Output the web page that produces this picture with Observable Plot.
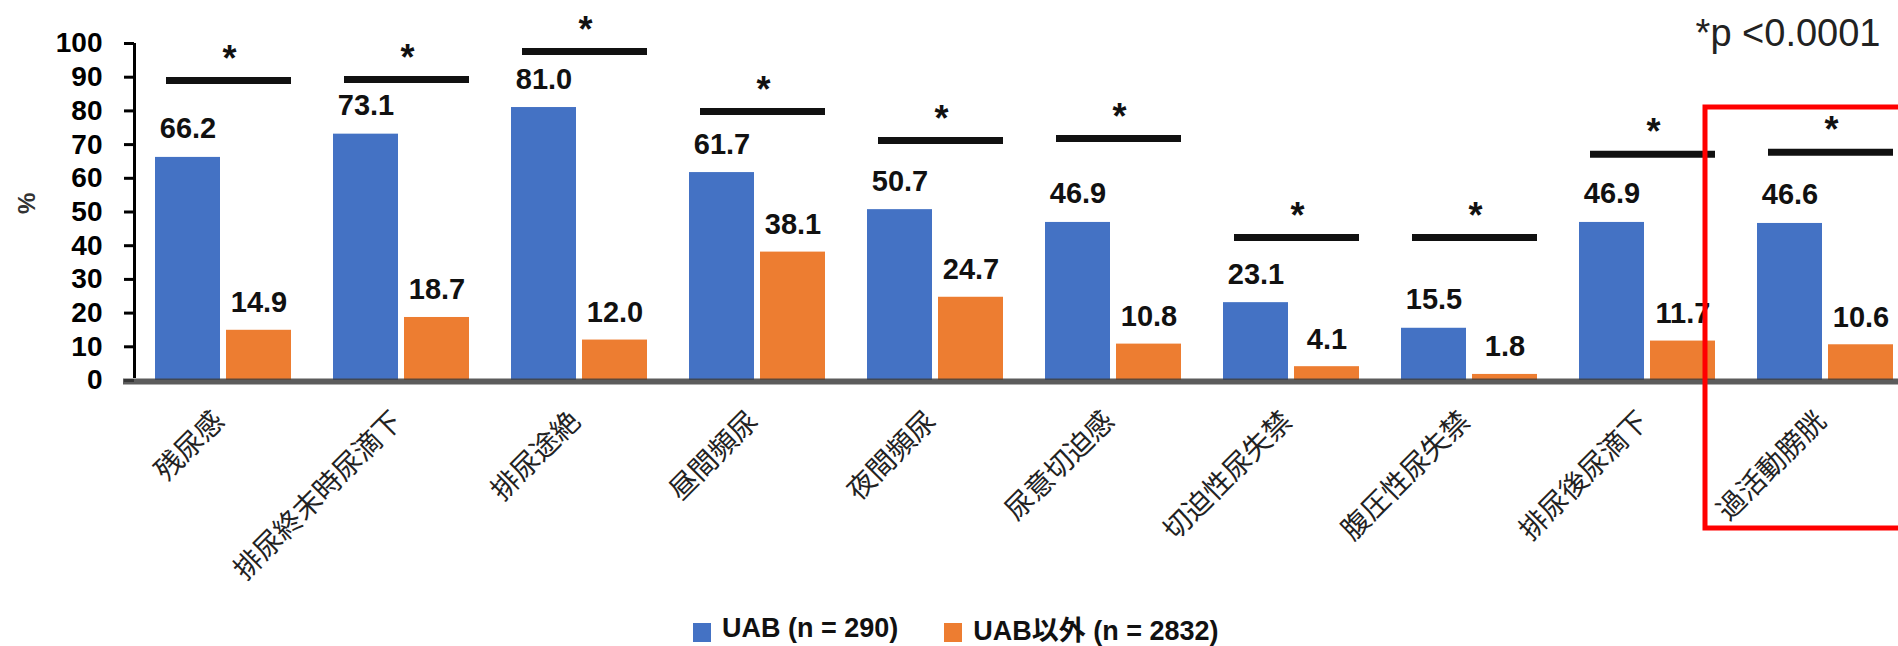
<!DOCTYPE html>
<html>
<head>
<meta charset="utf-8">
<script src="https://cdn.jsdelivr.net/npm/d3@7"></script>
<script src="https://cdn.jsdelivr.net/npm/@observablehq/plot@0.6"></script>
<style>
  html, body { margin: 0; padding: 0; background: white; overflow: hidden; }
  #wrap { position: relative; width: 1898px; height: 646px; }
  #legend { position: absolute; top: 614px; left: 693px; height: 36px; display: flex; align-items: center;
    font: bold 27px "Liberation Sans", Arial, "Noto Sans CJK JP", sans-serif; color: #111; }
  #legend .sw { display: inline-block; width: 18px; height: 19px; margin-right: 11px; }
  #legend .lab { position: relative; top: -4px; }
  #legend .gap { display: inline-block; width: 46px; }
</style>
</head>
<body>
<div id="wrap">
  <div id="chart"></div>
  <div id="legend">
    <span class="sw" style="background:#4472C4"></span><span class="lab" id="l1"></span>
    <span class="gap"></span>
    <span class="sw" style="background:#ED7D31"></span><span class="lab" id="l2"></span>
  </div>
</div>
<script>
// ---- data ----
const categories = ["残尿感", "排尿終末時尿滴下", "排尿途絶", "昼間頻尿", "夜間頻尿", "尿意切迫感", "切迫性尿失禁", "腹圧性尿失禁", "排尿後尿滴下", "過活動膀胱"];
const uabValues = [66.2, 73.1, 81.0, 61.7, 50.7, 46.9, 23.1, 15.5, 46.9, 46.6];
const otherValues = [14.9, 18.7, 12.0, 38.1, 24.7, 10.8, 4.1, 1.8, 11.7, 10.6];
const sigLevels = [89.0, 89.3, 97.6, 79.8, 71.2, 71.8, 42.4, 42.4, 67.1, 67.7];
const seriesNames = ["UAB (n = 290)", "UAB以外 (n = 2832)"];
const seriesColors = ["#4472C4", "#ED7D31"];
const yTicks = [0, 10, 20, 30, 40, 50, 60, 70, 80, 90, 100];
const yLabel = "%";
const pNote = "*p <0.0001";
const starText = "*";
const highlighted = ["過活動膀胱"];

// ---- table built from arrays ----
const rows = categories.map((c, i) => ({cat: c, uab: uabValues[i], other: otherValues[i], sig: sigLevels[i]}));

const latin = "'Liberation Sans', Arial, sans-serif";
const cjk = "'Noto Sans CJK JP', sans-serif";

const chart = Plot.plot({
  width: 1898,
  height: 600,
  marginLeft: 134,
  marginRight: -16,
  marginTop: 43,
  marginBottom: 220,
  style: {fontFamily: latin, background: "white", color: "black", overflow: "visible"},
  x: {type: "band", domain: categories, padding: 0, axis: null},
  y: {domain: [0, 100], axis: null},
  marks: [
    Plot.axisY({ticks: yTicks, tickSize: 10, tickPadding: 22, fontSize: 28, fontWeight: "bold", strokeWidth: 3, tickFormat: d => String(d)}),
    Plot.ruleX([categories[0]], {x: d => d, y1: 0, y2: 100, dx: -89, stroke: "black", strokeWidth: 3, insetTop: -2}),
    Plot.text([yLabel], {frameAnchor: "left", dx: -107, dy: 2, rotate: -90, fontSize: 24, fontWeight: "bold", fill: "#333"}),
    Plot.barY(rows, {x: "cat", y: "uab", fill: seriesColors[0], insetLeft: 21, insetRight: 92}),
    Plot.barY(rows, {x: "cat", y: "other", fill: seriesColors[1], insetLeft: 92, insetRight: 21}),
    Plot.ruleY([0], {stroke: "#404040", strokeOpacity: 0.85, strokeWidth: 6, dy: 1, insetLeft: -11}),
    Plot.text(rows, {x: "cat", y: "uab", text: d => d.uab.toFixed(1), dx: -35.5, dy: -19, lineAnchor: "bottom", fontSize: 29, fontWeight: "bold", fill: "#111"}),
    Plot.text(rows, {x: "cat", y: "other", text: d => d.other.toFixed(1), dx: 35.5, dy: -18, lineAnchor: "bottom", fontSize: 29, fontWeight: "bold", fill: "#111"}),
    Plot.tickY(rows, {x: "cat", y: "sig", stroke: "#111", strokeWidth: 7, insetLeft: 32, insetRight: 21}),
    Plot.text(rows, {x: "cat", y: "sig", text: () => starText, dx: 6, dy: -10, lineAnchor: "bottom", fontSize: 36, fontWeight: "bold", fill: "#111"}),
    Plot.text(categories, {x: d => d, frameAnchor: "bottom", dx: -4, dy: 36, rotate: -45, textAnchor: "end", lineAnchor: "middle", fontSize: 28, fontFamily: cjk, fill: "#222"}),
    Plot.text([pNote], {frameAnchor: "top-right", dx: -34, dy: 2, textAnchor: "end", lineAnchor: "bottom", fontSize: 38, fill: "#222"}),
    Plot.barY(highlighted, {x: d => d, y1: 0, y2: 100, fill: "none", stroke: "#FF0000", strokeWidth: 5, insetTop: 64, insetBottom: -148, insetLeft: -31, insetRight: -40})
  ]
});
document.getElementById("chart").appendChild(chart);
document.getElementById("l1").textContent = seriesNames[0];
document.getElementById("l2").textContent = seriesNames[1];
</script>
</body>
</html>
